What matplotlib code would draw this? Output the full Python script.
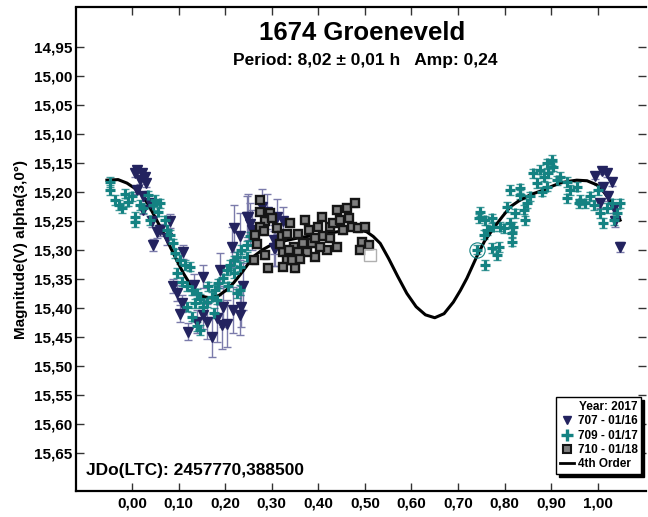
import matplotlib as mpl
mpl.use('Agg')
import matplotlib.pyplot as plt
from matplotlib.lines import Line2D

plt.rcParams['font.family'] = ['Liberation Sans', 'DejaVu Sans']
plt.rcParams['font.weight'] = 'bold'

# 707 - 01/16 : phase, magnitude, error
ph707 = [0.010, 0.021, 0.028, 0.017, 0.031, 0.010, 0.024, 0.039, 0.024, 0.042,
         0.060, 0.082, 0.053, 0.046, 0.075, 0.089, 0.096, 0.103, 0.107, 0.121,
         0.110, 0.132, 0.139, 0.153, 0.153, 0.171, 0.182, 0.189, 0.196, 0.203,
         0.214, 0.217, 0.232, 0.235, 0.239, 0.219, 0.232, 0.250, 0.257, 0.304,
         0.193, 0.160, 0.246, 0.279, 0.289, 0.304, 0.311, 0.325, 0.307, 0.253,
         0.006, 1.009, 1.020, 1.030, 1.012, 1.023, 1.034, 1.038, 1.005, 1.048,
         0.995]
mag707 = [15.162, 15.167, 15.174, 15.180, 15.185, 15.197, 15.208, 15.220, 15.231, 15.251,
          15.266, 15.251, 15.270, 15.292, 15.280, 15.363, 15.375, 15.410, 15.392, 15.441,
          15.303, 15.360, 15.424, 15.346, 15.412, 15.450, 15.418, 15.335, 15.398, 15.427,
          15.295, 15.404, 15.412, 15.398, 15.363, 15.263, 15.277, 15.243, 15.266, 15.297,
          15.430, 15.424, 15.243, 15.226, 15.234, 15.283, 15.243, 15.251, 15.297, 15.255,
          15.168, 15.164, 15.168, 15.183, 15.191, 15.208, 15.228, 15.251, 15.220, 15.295,
          15.172]
err707 = [0.006, 0.006, 0.006, 0.006, 0.007, 0.007, 0.008, 0.008, 0.008, 0.010,
          0.010, 0.012, 0.010, 0.010, 0.012, 0.012, 0.014, 0.015, 0.015, 0.015,
          0.012, 0.018, 0.020, 0.020, 0.025, 0.035, 0.040, 0.030, 0.035, 0.040,
          0.035, 0.040, 0.035, 0.035, 0.040, 0.040, 0.040, 0.040, 0.035, 0.030,
          0.040, 0.030, 0.035, 0.030, 0.030, 0.025, 0.030, 0.025, 0.030, 0.035,
          0.006, 0.006, 0.006, 0.007, 0.007, 0.008, 0.008, 0.010, 0.008, 0.008,
          0.006]

# 709 - 01/17
ph709 = [-0.047, -0.047, -0.037, -0.029, -0.015, -0.022, -0.008, 0.000, 0.006, 0.006,
         0.017, 0.024, 0.035, 0.049, 0.046, 0.060, 0.056, 0.039, 0.071, 0.075,
         0.082, 0.089, 0.092, 0.103, 0.114, 0.125, 0.096, 0.107, 0.117, 0.128,
         0.139, 0.146, 0.135, 0.153, 0.160, 0.171, 0.178, 0.185, 0.196, 0.203,
         0.210, 0.218, 0.225, 0.235, 0.246, 0.253, 0.139, 0.146, 0.128, 0.164,
         0.175, 0.182, 0.232, 0.225, 0.207, 0.218, 0.232, 0.117, 0.246,
         0.748, 0.744, 0.758, 0.773, 0.762, 0.776, 0.755, 0.740, 0.773, 0.787,
         0.783, 0.758, 0.790, 0.798, 0.812, 0.819, 0.815, 0.805, 0.812, 0.834,
         0.834, 0.823, 0.841, 0.848, 0.844, 0.855, 0.862, 0.869, 0.876, 0.884,
         0.891, 0.902, 0.905, 0.894, 0.880, 0.891, 0.912, 0.919, 0.934, 0.934,
         0.941, 0.955, 0.959, 0.962, 0.973, 0.984, 0.991, 1.005, 1.012, 1.020,
         1.030, 1.041, 1.048, 1.034, 1.001, 0.815]
mag709 = [15.183, 15.197, 15.214, 15.223, 15.203, 15.228, 15.217, 15.208, 15.243, 15.252,
          15.223, 15.228, 15.206, 15.214, 15.223, 15.220, 15.234, 15.249, 15.249, 15.266,
          15.274, 15.289, 15.306, 15.317, 15.326, 15.329, 15.340, 15.355, 15.363, 15.369,
          15.375, 15.384, 15.392, 15.398, 15.390, 15.381, 15.369, 15.358, 15.349, 15.335,
          15.326, 15.318, 15.312, 15.300, 15.292, 15.277, 15.432, 15.438, 15.415, 15.363,
          15.409, 15.386, 15.369, 15.375, 15.363, 15.340, 15.329, 15.398, 15.312,
          15.234, 15.246, 15.249, 15.246, 15.266, 15.260, 15.274, 15.300, 15.297, 15.295,
          15.309, 15.326, 15.260, 15.263, 15.254, 15.260, 15.286, 15.226, 15.197, 15.194,
          15.205, 15.237, 15.231, 15.220, 15.249, 15.208, 15.168, 15.185, 15.162, 15.174,
          15.151, 15.145, 15.157, 15.168, 15.200, 15.191, 15.180, 15.174, 15.183, 15.211,
          15.197, 15.191, 15.220, 15.214, 15.220, 15.208, 15.223, 15.237, 15.254, 15.228,
          15.220, 15.237, 15.220, 15.249, 15.197, 15.271]
err709 = [0.008] * len(ph709)

# 710 - 01/18
ph710 = [0.275, 0.286, 0.296, 0.275, 0.264, 0.261, 0.286, 0.293, 0.311, 0.321,
         0.332, 0.339, 0.325, 0.332, 0.350, 0.347, 0.357, 0.368, 0.372, 0.379,
         0.386, 0.393, 0.400, 0.407, 0.411, 0.418, 0.425, 0.432, 0.440, 0.440,
         0.447, 0.454, 0.461, 0.472, 0.479, 0.486, 0.500, 0.493, 0.490, 0.508,
         0.375, 0.357, 0.336, 0.343, 0.325, 0.425, 0.393, 0.275, 0.300, 0.318,
         0.361, 0.404, 0.465, 0.268, 0.283]
mag710 = [15.234, 15.251, 15.237, 15.260, 15.274, 15.318, 15.309, 15.332, 15.263, 15.277,
          15.272, 15.254, 15.303, 15.318, 15.332, 15.295, 15.272, 15.289, 15.249, 15.266,
          15.289, 15.312, 15.260, 15.243, 15.277, 15.300, 15.260, 15.254, 15.295, 15.231,
          15.249, 15.266, 15.228, 15.260, 15.220, 15.263, 15.260, 15.286, 15.300, 15.292,
          15.303, 15.303, 15.300, 15.318, 15.329, 15.280, 15.280, 15.215, 15.246, 15.290,
          15.315, 15.295, 15.246, 15.290, 15.268]
err710 = [0.006] * len(ph710)

# 4th order Fourier fit
fit_ph = [-0.054, -0.030, -0.011, 0.017, 0.035, 0.053, 0.068, 0.082, 0.096, 0.110,
          0.132, 0.150, 0.168, 0.186, 0.203, 0.218, 0.232, 0.246, 0.260, 0.280,
          0.300, 0.330, 0.360, 0.400, 0.440, 0.470, 0.490, 0.504, 0.518, 0.533,
          0.551, 0.570, 0.590, 0.610, 0.630, 0.650, 0.670, 0.690, 0.705, 0.719,
          0.740, 0.757, 0.776, 0.795, 0.812, 0.830, 0.848, 0.866, 0.884, 0.900,
          0.919, 0.937, 0.955, 0.977, 0.998, 1.010, 1.020, 1.034, 1.048]
fit_mag = [15.180, 15.179, 15.185, 15.200, 15.222, 15.249, 15.272, 15.295, 15.318, 15.340,
           15.369, 15.380, 15.383, 15.379, 15.369, 15.357, 15.343, 15.328, 15.312, 15.300,
           15.291, 15.284, 15.279, 15.274, 15.269, 15.266, 15.266, 15.269, 15.277, 15.289,
           15.315, 15.345, 15.375, 15.398, 15.412, 15.417, 15.410, 15.390, 15.370, 15.349,
           15.312, 15.285, 15.263, 15.243, 15.226, 15.216, 15.208, 15.202, 15.197, 15.191,
           15.185, 15.182, 15.180, 15.181, 15.188, 15.197, 15.208, 15.227, 15.249]

xticks = [0.0, 0.1, 0.2, 0.3, 0.4, 0.5, 0.6, 0.7, 0.8, 0.9, 1.0]
yticks = [14.95, 15.00, 15.05, 15.10, 15.15, 15.20, 15.25, 15.30, 15.35, 15.40,
          15.45, 15.50, 15.55, 15.60, 15.65]

navy = '#23235f'
teal = '#148282'

fig = plt.figure(figsize=(6.48, 5.17), dpi=100)
ax = fig.add_axes([75.7 / 648, 26 / 517, 570 / 648, 483.5 / 517])

ax.errorbar(ph707, mag707, yerr=err707, fmt='none', ecolor='#7b7bab',
            elinewidth=1, capsize=3, capthick=1, zorder=2)
ax.errorbar(ph709, mag709, yerr=err709, fmt='none', ecolor=teal,
            elinewidth=1, capsize=3, capthick=1, alpha=0.8, zorder=2)
ax.errorbar(ph710, mag710, yerr=err710, fmt='none', ecolor='#888888',
            elinewidth=1, capsize=2.5, zorder=2)

ax.plot(fit_ph, fit_mag, '-', color='black', lw=2.2, zorder=2.5)

ax.plot(ph707, mag707, 'v', color=navy, ms=6.5, mec=navy, zorder=3)
ax.plot(ph709, mag709, '+', color=teal, ms=7.5, mew=2.3, zorder=3)
ax.plot([0.740], [15.300], 'o', mfc='none', mec=teal, ms=11, mew=0.8, zorder=4)
ax.plot(ph710, mag710, 's', mfc='#7f7f7f', mec='#151515', ms=6.3, mew=1.7, zorder=3)
ax.plot([0.511], [15.309], 's', mfc='none', mec='#b0b0b0', ms=9, mew=1, zorder=4)

ax.set_xlim(-0.121, 1.103)
ax.set_ylim(15.7155, 14.8825)
ax.set_xticks(xticks)
ax.set_xticklabels([('%.2f' % v).replace('.', ',') for v in xticks])
ax.set_yticks(yticks)
ax.set_yticklabels([('%.2f' % v).replace('.', ',') for v in yticks])
ax.tick_params(axis='both', direction='in', length=6, width=1, labelsize=11,
               color='#333333')
ax.tick_params(axis='x', top=True, pad=4)
ax.tick_params(axis='y', right=True, labelright=False, pad=2.5)
for s in ['left', 'top', 'bottom']:
    ax.spines[s].set_linewidth(1.6)
ax.spines['right'].set_visible(False)

ax.set_ylabel('Magnitude(V) alpha(3,0°)', fontsize=11, fontweight='bold', labelpad=4)

fig.text(362 / 648, 1 - 33 / 517, '1674 Groeneveld', ha='center', va='center',
         fontsize=18.5, fontweight='bold')
fig.text(365 / 648, 1 - 60 / 517, 'Period: 8,02 ± 0,01 h   Amp: 0,24', ha='center',
         va='center', fontsize=12.5, fontweight='bold')
fig.text(86 / 648, 1 - 470 / 517, 'JDo(LTC): 2457770,388500', ha='left', va='center',
         fontsize=12.5, fontweight='bold')

handles = [
    Line2D([], [], ls='none', marker='v', color=navy, ms=6),
    Line2D([], [], ls='none', marker='+', color=teal, ms=8, mew=2.4),
    Line2D([], [], ls='none', marker='s', mfc='#7f7f7f', mec='#151515', ms=6, mew=1.5),
    Line2D([], [], color='black', lw=2),
]
labels = ['707 - 01/16', '709 - 01/17', '710 - 01/18', '4th Order']
leg = ax.legend(handles, labels, title='Year: 2017', loc='lower right',
                bbox_to_anchor=(641 / 648, 1 - 474 / 517), bbox_transform=fig.transFigure,
                borderaxespad=0, fancybox=False, edgecolor='black', framealpha=1,
                shadow={'ox': 2, 'oy': -2, 'color': 'black', 'alpha': 1},
                prop={'size': 8.5, 'weight': 'bold'}, handlelength=1.2,
                handletextpad=0.3, borderpad=0.3, labelspacing=0.2,
                alignment='right')
leg.get_title().set_fontsize(8.5)
leg.get_title().set_fontweight('bold')
leg.get_frame().set_linewidth(1)

plt.savefig('out.png', dpi=100)
